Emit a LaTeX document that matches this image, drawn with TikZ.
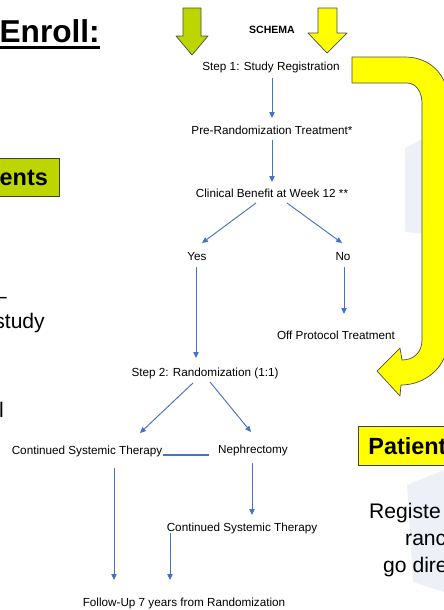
\documentclass[tikz,border=0pt]{standalone}
\usepackage{fontspec}
\setmainfont{Liberation Sans}
\usetikzlibrary{arrows.meta,calc}
\definecolor{flowblue}{RGB}{68,114,196}
\definecolor{schemagreen}{RGB}{190,214,0}
\definecolor{schemayellow}{RGB}{255,255,0}
\definecolor{faintshade}{RGB}{238,240,248}

\begin{document}
\begin{tikzpicture}[x=0.03cm,y=-0.03cm,
  txt/.style={inner sep=0pt, font=\fontsize{10}{12}\selectfont},
  bigtxt/.style={inner sep=0pt, font=\fontsize{18}{22}\selectfont},
  tagbox/.style={draw=black!75, line width=0.7pt, inner ysep=0pt, minimum height=33pt, text width=80pt, font=\fontsize{20}{24}\selectfont\bfseries},
  flow/.style={draw=flowblue, line width=0.8pt, -{Triangle[length=5pt,width=4.5pt]}},
  fat/.style={draw=black!70, line width=0.6pt, line join=round}]
	\useasboundingbox (0,0) rectangle (444,610);
	\clip (0,0) rectangle (444,610);

	\fill[faintshade] (405,148) -- (444,128) -- (444,236) -- (405,232) -- cycle;
	\fill[faintshade] (407,485) -- (444,470) -- (444,592) -- (413,582) -- cycle;

	\filldraw[fat, fill=schemayellow] (352,57) -- (405,57) .. controls (430,57) and (448,75) .. (448,100) -- (448,340)
		.. controls (448,366) and (426,385) .. (401,385) -- (400,396) -- (377,371) -- (400,348) -- (402,360)
		.. controls (414,360) and (422,352) .. (422,340) -- (422,103) .. controls (422,92) and (416,83) .. (407,83) -- (352,83) -- cycle;
	\filldraw[fat, fill=schemagreen] (183,8) -- (201,8) -- (201,36) -- (208,36) -- (192,55) -- (176,36) -- (183,36) -- cycle;
	\filldraw[fat, fill=schemayellow] (318,8) -- (337,8) -- (337,33) -- (347,33) -- (327,53) -- (308,33) -- (318,33) -- cycle;

	\node[anchor=base east, inner sep=0pt, font=\fontsize{27}{32}\selectfont\bfseries] (enroll) at (100,42) {Enroll:};
	\draw[line width=2.2pt] ([yshift=-4.6pt]enroll.base west) -- ([yshift=-4.6pt]enroll.base east);
	\node[tagbox, fill=schemagreen, anchor=east, align=right, inner xsep=10pt] (ents) at (60,177.5) {ents};
	\node[bigtxt, anchor=base east] (dash) at (7,303) {–};
	\node[bigtxt, anchor=base east] (study) at (45,328) {study};
	\node[bigtxt, anchor=base east] (frag) at (4,417) {l};
	\node[tagbox, fill=schemayellow, anchor=west, align=left, inner xsep=8.5pt] (patient) at (358,446) {Patient};
	\node[bigtxt, anchor=base west] (reg) at (369,518) {Registe};
	\node[bigtxt, anchor=base west] (ranc) at (405,545) {ranc};
	\node[bigtxt, anchor=base west] (godir) at (383,572) {go dire};

	\node[txt, font=\fontsize{9}{11}\selectfont\bfseries] (schema) at (272,30) {SCHEMA};
	\node[txt] (step1) at (271,67) {Step 1: Study Registration};
	\node[txt] (pre) at (272,130) {Pre-Randomization Treatment*};
	\node[txt] (clin) at (272,193) {Clinical Benefit at Week 12 **};
	\node[txt] (yes) at (197,257) {Yes};
	\node[txt] (no) at (343,257) {No};
	\node[txt] (off) at (336,335) {Off Protocol Treatment};
	\node[txt] (step2) at (205,373) {Step 2: Randomization (1:1)};
	\node[txt] (cst1) at (87,451) {Continued Systemic Therapy};
	\node[txt] (neph) at (253,450) {Nephrectomy};
	\node[txt] (cst2) at (242,528) {Continued Systemic Therapy};
	\node[txt] (follow) at (184,603) {Follow-Up 7 years from Randomization};

	\draw[flow] ($(step1)+(1,11)$) -- ($(pre)+(0,-12)$);
	\draw[flow] ($(pre)+(0,10)$) -- ($(clin)+(0,-11)$);
	\draw[flow] ($(clin)+(-16,10)$) -- ($(yes)+(5,-14)$);
	\draw[flow] ($(clin)+(15,10)$) -- ($(no)+(-1,-14)$);
	\draw[flow] ($(yes)+(-1,10)$) -- ($(step2)+(-9,-15)$);
	\draw[flow] ($(no)+(1,10)$) -- ($(off)+(8,-21)$);
	\draw[flow] ($(step2)+(-12,10)$) -- ($(cst1)+(53,-18)$);
	\draw[flow] ($(step2)+(5,9)$) -- ($(neph)+(-2,-18)$);
	\draw[flow] ($(neph)+(-1,13)$) -- ($(cst2)+(10,-13)$);
	\draw[flow] ($(cst1)+(27,17)$) -- ($(follow)+(-70,-23)$);
	\draw[flow] ($(cst2)+(-72,5)$) -- ($(follow)+(-14,-23)$);
	\draw[flowblue, line width=2.2pt] ($(cst1)+(76,4)$) -- ($(neph)+(-44,5)$);
\end{tikzpicture}
\end{document}
